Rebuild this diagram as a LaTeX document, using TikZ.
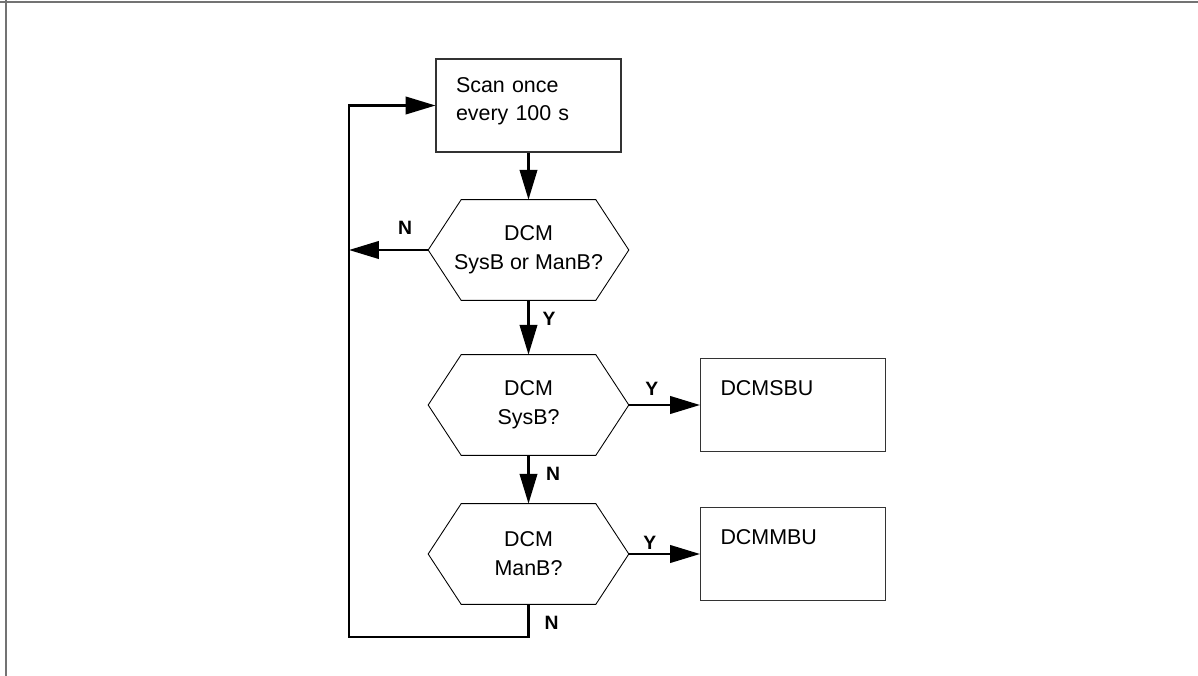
\documentclass[tikz,border=0pt]{standalone}
\usepackage{fontspec}
\setmainfont{Liberation Sans}
\usetikzlibrary{arrows.meta,calc}

\begin{document}
\begin{tikzpicture}[x=0.02cm, y=-0.02cm]
    \tikzset{
        procbox/.style={draw=black!80, line width=0.6pt, inner xsep=0.4cm, inner ysep=0pt,
            text width=2.9cm, align=left, text height=0.74cm, text depth=1.12cm,
            font=\fontsize{12.2}{16}\selectfont},
        decision/.style={minimum width=4cm, minimum height=2cm, inner sep=0pt, align=center,
            font=\fontsize{12.2}{16.5}\selectfont},
        hexline/.style={line width=0.5pt, black},
        flow/.style={line width=1.2pt, -{Triangle[length=17pt,width=10pt]}},
        yn/.style={font=\fontsize{11}{12}\selectfont\bfseries},
        framestyle/.style={black!55, line width=1.2pt}
    }

    \useasboundingbox (0,0) rectangle (1198,676);
    \draw[framestyle] (0,1.8) -- (1198,1.8);
    \draw[framestyle] (5.7,0) -- (5.7,676);

    % --- Boites ---
    \node[procbox, text height=0.66cm, text depth=1.2cm] (scan) at (528.5,105.5) {Scan once\\every 100 s};
    \node[decision] (sysman) at (528.5,250) {DCM\\SysB or ManB?};
    \node[decision] (sysb) at (528.5,405) {DCM\\SysB?};
    \node[decision] (manb) at (528.5,554) {DCM\\ManB?};
    \node[procbox] (sbu) at (793,405) {DCMSBU};
    \node[procbox] (mbu) at (793,554) {DCMMBU};

    % Hexagones
    \foreach \n in {sysman,sysb,manb} {
        \draw[hexline] (\n.west) -- ([xshift=0.66cm]\n.north west) -- ([xshift=-0.66cm]\n.north east)
            -- (\n.east) -- ([xshift=-0.66cm]\n.south east) -- ([xshift=0.66cm]\n.south west) -- cycle;
    }

    % --- Fleches ---
    \coordinate (loopbot) at (349,637);
    \draw[flow] (scan.south) -- (sysman.north);
    \draw[flow] (sysman.west) -- (sysman.west -| loopbot);
    \draw[flow] (sysman.south) -- (sysb.north);
    \draw[flow] (sysb.east) -- (sbu.west);
    \draw[flow] (sysb.south) -- (manb.north);
    \draw[flow] (manb.east) -- (mbu.west);
    \draw[flow] (manb.south) -- (manb.south |- loopbot) -- (loopbot) -- (loopbot |- scan.west) -- (scan.west);

    % Y / N
    \node[yn] (n1) at ($(sysman.west)+(-23,-22)$) {N};
    \node[yn] (y1) at ($(sysman.south)+(20.5,19)$) {Y};
    \node[yn] (y2) at ($(sysb.east)+(23,-16)$) {Y};
    \node[yn] (n2) at ($(sysb.south)+(24.5,19)$) {N};
    \node[yn] (y3) at ($(manb.east)+(21,-11)$) {Y};
    \node[yn] (n3) at ($(manb.south)+(23,19)$) {N};

\end{tikzpicture}
\end{document}
